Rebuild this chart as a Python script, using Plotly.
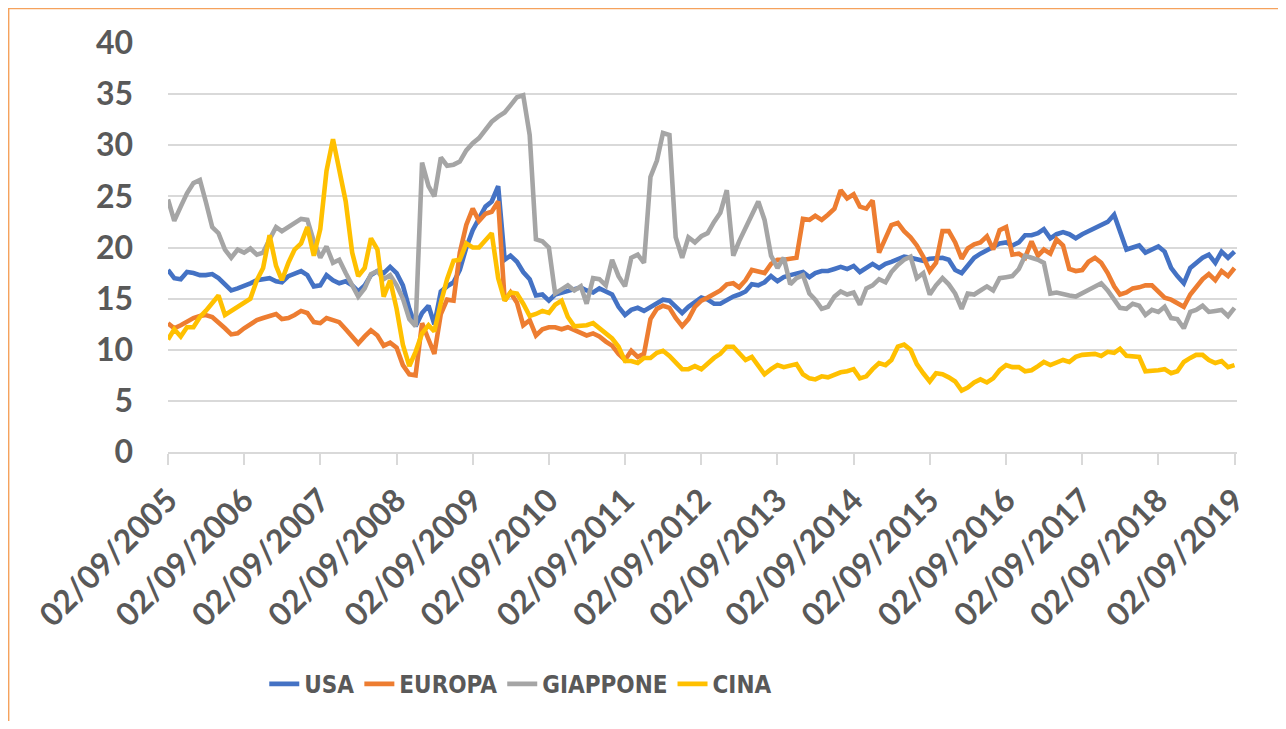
import pandas as pd
import plotly.graph_objects as go

# Monthly observations, 02/09/2005 .. 02/09/2019
dates = pd.date_range("2005-09-01", "2019-09-01", freq="MS") + pd.Timedelta(days=1)

usa = [17.8, 17.0, 16.9, 17.6, 17.5, 17.3, 17.3, 17.4, 17.0, 16.4, 15.8, 16.0, 16.2, 16.5, 16.8, 16.9, 17.0, 16.7, 16.6, 17.2, 17.4, 17.7, 17.3, 16.2, 16.3, 17.3, 16.8, 16.5,
       16.7, 16.3, 15.7, 16.3, 17.3, 17.7, 17.5, 18.1, 17.5, 16.3, 14.0, 12.3, 13.6, 14.3, 12.5, 15.7, 16.2, 16.6, 17.8, 20.0, 21.7, 22.8, 24.0, 24.5, 26.0, 18.8,
       19.2, 18.6, 17.6, 16.9, 15.3, 15.4, 14.8, 15.4, 15.6, 15.8, 16.0, 16.1, 15.8, 15.6, 16.0, 15.7, 15.4, 14.2, 13.4, 13.9, 14.1, 13.8, 14.2, 14.6, 14.9, 14.8, 14.2,
       13.6, 14.2, 14.7, 15.1, 14.9, 14.5, 14.5, 14.9, 15.2, 15.4, 15.7, 16.4, 16.3, 16.6, 17.2, 16.7, 17.1, 17.3, 17.5, 17.6, 17.1, 17.5, 17.7, 17.7, 17.9, 18.1, 17.9,
       18.2, 17.6, 18.0, 18.4, 18.0, 18.4, 18.6, 18.9, 19.1, 19.0, 18.8, 18.7, 18.9, 18.9, 19.0, 18.8, 17.8, 17.5, 18.2, 19.0, 19.4, 19.7, 20.0, 20.4, 20.5, 20.2, 20.5,
       21.2, 21.2, 21.4, 21.8, 20.9, 21.3, 21.5, 21.3, 20.9, 21.3, 21.6, 21.9, 22.1, 22.5, 23.2, 21.6, 19.8, 20.0, 20.2, 19.5, 19.8, 20.1, 19.6, 18.0, 17.2, 16.5, 18.0, 18.5, 19.0, 19.3, 18.5, 19.6, 19.0, 19.6]

europa = [12.6, 12.1, 12.4, 12.8, 13.1, 13.3, 13.4, 13.2, 12.7, 12.1, 11.5, 11.6, 12.1, 12.5, 12.9, 13.1, 13.3, 13.5, 13.0, 13.1, 13.4, 13.8, 13.6, 12.7, 12.6, 13.1, 12.9, 12.7,
          12.0, 11.3, 10.6, 11.3, 11.9, 11.4, 10.4, 10.7, 10.2, 8.5, 7.6, 7.5, 12.6, 11.0, 9.6, 13.5, 14.9, 14.8, 19.5, 22.2, 23.8, 22.6, 23.3, 23.5, 24.5, 14.8,
          15.6, 14.6, 12.4, 12.9, 11.4, 12.0, 12.2, 12.2, 12.0, 12.2, 11.9, 11.6, 11.4, 11.6, 11.3, 10.8, 10.4, 9.6, 9.0, 9.9, 9.3, 9.6, 13.0, 14.0, 14.3, 14.1, 13.1,
          12.3, 13.0, 14.2, 14.8, 15.1, 15.4, 15.8, 16.4, 16.5, 16.1, 16.8, 17.8, 17.7, 17.5, 18.4, 18.8, 18.8, 18.9, 19.0, 22.8, 22.7, 23.1, 22.7, 23.2, 23.8, 25.6, 24.8,
          25.2, 24.0, 23.8, 24.6, 19.5, 20.9, 22.2, 22.4, 21.6, 21.0, 20.2, 19.1, 17.7, 18.5, 21.6, 21.6, 20.5, 18.9, 19.9, 20.3, 20.5, 21.1, 19.8, 21.7, 22.0, 19.3, 19.4,
          19.0, 20.6, 19.2, 19.8, 19.4, 20.8, 20.2, 17.9, 17.7, 17.8, 18.6, 19.0, 18.5, 17.5, 16.2, 15.4, 15.6, 16.0, 16.1, 16.3, 16.3, 15.7, 15.1, 14.9, 14.6, 14.2, 15.4, 16.2, 16.9, 17.4, 16.8, 17.7, 17.2, 18.0]

giappone = [24.7, 22.6, 24.0, 25.3, 26.3, 26.6, 24.5, 22.0, 21.4, 19.8, 19.0, 19.8, 19.5, 19.9, 19.3, 19.5, 20.8, 22.0, 21.6, 22.0, 22.3, 22.8, 22.7, 20.6, 19.0, 20.1, 18.5, 18.8,
            17.5, 16.2, 15.2, 16.0, 17.4, 17.7, 16.9, 17.3, 16.3, 15.0, 13.0, 12.3, 28.3, 26.0, 25.0, 28.8, 28.0, 28.1, 28.4, 29.5, 30.2, 30.7, 31.5, 32.3, 32.8, 33.2,
            33.9, 34.7, 34.9, 31.0, 20.8, 20.6, 20.0, 15.5, 15.9, 16.3, 15.8, 16.2, 14.5, 17.0, 16.9, 16.3, 18.8, 17.2, 16.2, 19.0, 19.3, 18.5, 26.9, 28.5, 31.2, 31.0, 21.0,
            19.0, 21.0, 20.5, 21.1, 21.4, 22.5, 23.4, 25.6, 19.2, 20.6, 22.0, 23.2, 24.5, 22.7, 19.2, 18.0, 19.0, 16.4, 17.0, 17.3, 15.5, 14.9, 14.0, 14.2, 15.2, 15.7, 15.4,
            15.6, 14.4, 16.0, 16.3, 16.9, 16.6, 17.6, 18.3, 18.8, 19.1, 17.0, 17.5, 15.4, 16.3, 17.0, 16.4, 15.5, 14.0, 15.5, 15.4, 15.8, 16.2, 15.8, 17.0, 17.1, 17.2, 17.9,
            19.2, 19.0, 18.8, 18.5, 15.5, 15.6, 15.4, 15.3, 15.2, 15.5, 15.8, 16.1, 16.5, 15.8, 14.8, 14.1, 14.0, 14.5, 14.3, 13.4, 13.9, 13.7, 14.2, 13.1, 13.0, 12.1, 13.7, 13.9, 14.3, 13.7, 13.8, 13.9, 13.3, 14.1]

cina = [11.0, 12.0, 11.3, 12.2, 12.2, 13.2, 13.8, 14.6, 15.3, 13.4, 13.8, 14.1, 14.5, 15.0, 16.8, 18.0, 21.2, 18.2, 16.8, 18.5, 19.8, 20.4, 22.0, 19.2, 21.8, 27.5, 30.6, 27.3,
        24.5, 19.5, 17.2, 18.0, 20.9, 19.8, 15.2, 16.8, 14.0, 10.5, 8.4, 9.8, 11.6, 12.4, 11.8, 14.6, 16.9, 18.7, 18.8, 20.4, 20.0, 20.0, 20.8, 21.4, 17.0, 14.8,
        15.6, 15.5, 14.5, 13.3, 13.5, 13.8, 13.6, 14.4, 14.8, 13.2, 12.3, 12.3, 12.4, 12.6, 12.1, 11.6, 11.1, 10.3, 8.9, 8.9, 8.7, 9.2, 9.2, 9.7, 9.9, 9.4, 8.8,
        8.1, 8.1, 8.4, 8.1, 8.7, 9.2, 9.6, 10.3, 10.3, 9.6, 9.0, 9.3, 8.4, 7.6, 8.1, 8.5, 8.3, 8.5, 8.6, 7.6, 7.2, 7.1, 7.4, 7.3, 7.6, 7.8, 7.9,
        8.1, 7.2, 7.4, 8.1, 8.7, 8.5, 9.0, 10.3, 10.5, 10.0, 8.6, 7.7, 6.9, 7.7, 7.6, 7.3, 6.9, 6.0, 6.3, 6.8, 7.1, 6.8, 7.2, 8.0, 8.5, 8.3, 8.3,
        7.9, 8.0, 8.4, 8.8, 8.5, 8.8, 9.0, 8.8, 9.3, 9.5, 9.5, 9.6, 9.4, 9.8, 9.7, 10.1, 9.4, 9.3, 9.3, 7.9, 7.9, 8.0, 8.1, 7.7, 7.9, 8.8, 9.2, 9.5, 9.5, 9.0, 8.7, 8.9, 8.3, 8.5]

series_names = ["USA", "EUROPA", "GIAPPONE", "CINA"]
series_values = [usa, europa, giappone, cina]
colors = ["#4472C4", "#ED7D31", "#A5A5A5", "#FFC000"]

tick_dates = [f"{y}-09-02" for y in range(2005, 2020)]
tick_labels = [f"02/09/{y}" for y in range(2005, 2020)]

fig = go.Figure()
for name, vals, col in zip(series_names, series_values, colors):
    fig.add_trace(go.Scatter(x=dates, y=vals, mode="lines", name=name,
                             line=dict(color=col, width=4.6)))

txt = "#595959"
grid = "#D9D9D9"
fig.update_layout(
    width=1270, height=713,
    margin=dict(l=160, r=41, t=35, b=269),
    paper_bgcolor="white", plot_bgcolor="white",
    showlegend=True,
    legend=dict(orientation="h", x=0.33, xanchor="center", y=-0.568, yanchor="middle",
                font=dict(family="DejaVu Sans Condensed", size=24, color=txt, weight="bold"),
                itemwidth=30, tracegroupgap=0),
    xaxis=dict(type="date", range=["2005-09-02", "2019-09-14"],
               tickmode="array", tickvals=tick_dates, ticktext=tick_labels,
               tickangle=-45, showgrid=False, showline=True, linecolor=grid, linewidth=1.5,
               ticks="outside", ticklen=11, tickcolor=grid, tickwidth=1.5,
               ticklabelstandoff=4,
               tickfont=dict(family="Lato", size=32, color=txt, weight="bold")),
    yaxis=dict(range=[0, 40], tickmode="linear", tick0=0, dtick=5,
               showgrid=True, gridcolor=grid, gridwidth=1.5, zeroline=False,
               showline=False, ticks="", ticklabelstandoff=34,
               tickfont=dict(family="Lato", size=32, color=txt, weight="bold")),
    shapes=[dict(type="rect", xref="paper", yref="paper",
                 x0=-0.1491, x1=1.2, y0=-1.0, y1=1.0842,
                 line=dict(color="#F5A25D", width=1.6), fillcolor="rgba(0,0,0,0)", layer="above")],
)

fig.write_html("out.html")
